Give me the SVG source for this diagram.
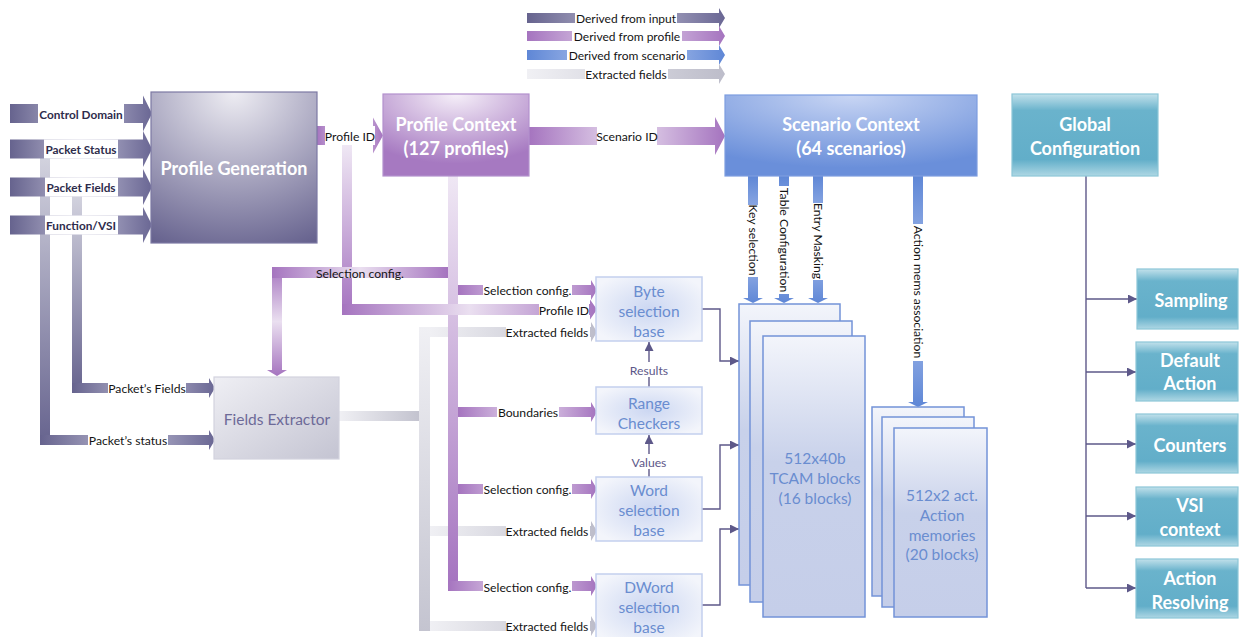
<svg xmlns="http://www.w3.org/2000/svg" width="1239" height="637" viewBox="0 0 1239 637">
<style>
text{font-family:Lato,"Liberation Sans",sans-serif;dominant-baseline:central;text-anchor:middle}
.lbl{font-size:12.2px;fill:#141414}
.lg{font-size:12px;fill:#141414}
.inl{font-size:11.8px;font-weight:bold;fill:#2e2c4c}
.big{font-size:18px;font-weight:bold;fill:#ffffff}
.blue{font-size:15.5px;fill:#6a8dd0}
.fx{font-size:15.5px;fill:#6d6a98}
.mem{font-size:15.5px;fill:#6a8dd0}
.wbg{fill:#ffffff}
.thin{fill:none;stroke:#5d5889;stroke-width:1.4}
.arr{marker-end:url(#ah)}
.sel{fill:url(#fSel);stroke:#c3cfee;stroke-width:1.5}
.memr{fill:url(#fMem);stroke:#7393d8;stroke-width:1.5}
.teal{fill:url(#fTeal);stroke:#8cc6d8;stroke-width:1.2}
</style>
<defs>
<marker id="ah" viewBox="0 0 10 10" refX="10" refY="5" markerWidth="10" markerHeight="9" markerUnits="userSpaceOnUse" orient="auto"><path d="M0,0 L10,5 L0,10 z" fill="#5d5889"/></marker>
<linearGradient id="gIn" x1="0" y1="0" x2="1" y2="0"><stop offset="0" stop-color="#66638e"/><stop offset="0.5" stop-color="#bdbbd2"/><stop offset="1" stop-color="#6a6794"/></linearGradient>
<linearGradient id="gInV" x1="0" y1="0" x2="0" y2="1"><stop offset="0" stop-color="#d2d2de"/><stop offset="1" stop-color="#66638e"/></linearGradient>
<linearGradient id="gPro" x1="0" y1="0" x2="1" y2="0"><stop offset="0" stop-color="#a574bf"/><stop offset="0.5" stop-color="#eadff0"/><stop offset="1" stop-color="#a574bf"/></linearGradient>
<linearGradient id="gProV" x1="0" y1="0" x2="0" y2="1"><stop offset="0" stop-color="#a574bf"/><stop offset="0.5" stop-color="#eadff0"/><stop offset="1" stop-color="#a574bf"/></linearGradient>
<linearGradient id="gProV2" x1="0" y1="0" x2="0" y2="1"><stop offset="0" stop-color="#efe7f4"/><stop offset="1" stop-color="#a472bf"/></linearGradient>
<linearGradient id="gSc" x1="0" y1="0" x2="1" y2="0"><stop offset="0" stop-color="#5f87d6"/><stop offset="0.5" stop-color="#c5d3f2"/><stop offset="1" stop-color="#5f87d6"/></linearGradient>
<linearGradient id="gScV" x1="0" y1="0" x2="0" y2="1"><stop offset="0" stop-color="#5f87d6"/><stop offset="0.5" stop-color="#b7c8ef"/><stop offset="1" stop-color="#5f87d6"/></linearGradient>
<linearGradient id="gEx" x1="0" y1="0" x2="1" y2="0"><stop offset="0" stop-color="#f0f0f4"/><stop offset="1" stop-color="#bdbdca"/></linearGradient>
<linearGradient id="gExV" x1="0" y1="0" x2="0" y2="1"><stop offset="0" stop-color="#f0f0f4"/><stop offset="1" stop-color="#c4c4d0"/></linearGradient>
<radialGradient id="fGen" cx="0.5" cy="0" r="1.1"><stop offset="0" stop-color="#eeedf3"/><stop offset="1" stop-color="#66628e"/></radialGradient>
<radialGradient id="fCtx" cx="0.5" cy="0" r="1"><stop offset="0" stop-color="#f6f0f9"/><stop offset="0.85" stop-color="#a679c1"/></radialGradient>
<radialGradient id="fScn" cx="0.5" cy="0" r="1"><stop offset="0" stop-color="#c9d6f4"/><stop offset="0.9" stop-color="#6a8fda"/></radialGradient>
<linearGradient id="fTeal" x1="0" y1="0" x2="0" y2="1"><stop offset="0" stop-color="#c2e1eb"/><stop offset="0.2" stop-color="#6ab3cc"/><stop offset="0.8" stop-color="#62aec9"/><stop offset="1" stop-color="#aed7e4"/></linearGradient>
<radialGradient id="fSel" cx="0.5" cy="0.5" r="0.6"><stop offset="0" stop-color="#ccd7f2"/><stop offset="1" stop-color="#f3f5fb"/></radialGradient>
<linearGradient id="fFx" x1="0" y1="0" x2="1" y2="1"><stop offset="0" stop-color="#efeff4"/><stop offset="1" stop-color="#c4c4d2"/></linearGradient>
<linearGradient id="fMem" x1="0" y1="0" x2="0" y2="1"><stop offset="0" stop-color="#f3f5fb"/><stop offset="0.45" stop-color="#c8d1ea"/><stop offset="1" stop-color="#c5cee9"/></linearGradient>
</defs>

<g id="legend">
<polygon points="527,13 719,13 719,8 725,18 719,28 719,23 527,23" fill="url(#gIn)"/>
<rect class="wbg" x="575" y="12" width="102" height="12"/>
<text class="lg" x="626" y="18">Derived from input</text>
<polygon points="527,31 719,31 719,26 725,36 719,46 719,41 527,41" fill="url(#gPro)"/>
<rect class="wbg" x="572" y="30" width="110" height="12"/>
<text class="lg" x="627" y="36">Derived from profile</text>
<polygon points="527,50 719,50 719,45 725,55 719,65 719,60 527,60" fill="url(#gSc)"/>
<rect class="wbg" x="567" y="49" width="120" height="12"/>
<text class="lg" x="627" y="55">Derived from scenario</text>
<polygon points="527,69 719,69 719,64 725,74 719,84 719,79 527,79" fill="url(#gEx)"/>
<rect class="wbg" x="585" y="68" width="83" height="12"/>
<text class="lg" x="626" y="74">Extracted fields</text>
</g>

<g id="connectors">
<rect x="40" y="158" width="10" height="287" fill="url(#gInV)"/>
<rect x="72" y="196" width="10" height="197" fill="url(#gInV)"/>
<polygon points="10,104 143,104 143,95.5 152,113.5 143,131.5 143,123 10,123" fill="url(#gIn)"/>
<rect class="wbg" x="38" y="104" width="86" height="19"/>
<text class="inl" x="81" y="114">Control Domain</text>
<polygon points="10,139.5 143,139.5 143,131 152,149 143,167 143,158.5 10,158.5" fill="url(#gIn)"/>
<rect class="wbg" x="44" y="139.5" width="74" height="19"/>
<text class="inl" x="81" y="149">Packet Status</text>
<polygon points="10,177.5 143,177.5 143,169 152,187 143,205 143,196.5 10,196.5" fill="url(#gIn)"/>
<rect class="wbg" x="45" y="177.5" width="73" height="19"/>
<text class="inl" x="81" y="187">Packet Fields</text>
<polygon points="10,215.5 143,215.5 143,207 152,225 143,243 143,234.5 10,234.5" fill="url(#gIn)"/>
<rect class="wbg" x="45" y="215.5" width="73" height="19"/>
<text class="inl" x="81" y="225">Function/VSI</text>
<polygon points="72,383 209,383 209,378 215,388 209,398 209,393 72,393" fill="url(#gIn)"/>
<rect class="wbg" x="108" y="382" width="78" height="12"/>
<text class="lbl" x="147" y="388">Packet’s Fields</text>
<polygon points="40,435 209,435 209,430 215,440 209,450 209,445 40,445" fill="url(#gIn)"/>
<rect class="wbg" x="88" y="434" width="80" height="12"/>
<text class="lbl" x="128" y="440">Packet’s status</text>

<rect x="339" y="411" width="91" height="10" fill="url(#gEx)"/>
<rect x="419" y="327" width="11" height="304" fill="url(#gExV)"/>
<polygon points="430,327 591,327 591,322 597,332 591,342 591,337 430,337" fill="url(#gEx)"/>
<polygon points="430,526 591,526 591,521 597,531 591,541 591,536 430,536" fill="url(#gEx)"/>
<polygon points="430,621 591,621 591,616 597,626 591,636 591,631 430,631" fill="url(#gEx)"/>

<rect x="448" y="176" width="10" height="415" fill="url(#gProV2)"/>
<rect x="342" y="145" width="10" height="170" fill="url(#gProV2)"/>
<polygon points="272,267 282,267 282,370 287,370 277,376 267,370 272,370" fill="url(#gProV)"/>
<rect x="272" y="267" width="176" height="11" fill="url(#gPro)"/>
<text class="lbl" x="360" y="273">Selection config.</text>
<polygon points="317,126 373,126 373,117.5 383,135.5 373,153.5 373,145 317,145" fill="url(#gPro)"/>
<rect class="wbg" x="325" y="126" width="50" height="19"/>
<text class="lbl" x="350" y="136">Profile ID</text>
<polygon points="529,127 715,127 715,117 725,136 715,155 715,145 529,145" fill="url(#gPro)"/>
<rect class="wbg" x="597" y="127" width="60" height="18"/>
<text class="lbl" x="627" y="136">Scenario ID</text>
<polygon points="342,304 590,304 590,299.5 597,309.5 590,319.5 590,315 342,315" fill="url(#gPro)"/>
<rect class="wbg" x="539" y="303" width="50" height="13"/>
<text class="lbl" x="564" y="310">Profile ID</text>
<polygon points="458,285 591,285 591,280 597,290 591,300 591,295 458,295" fill="url(#gPro)"/>
<rect class="wbg" x="483" y="284" width="89" height="12"/>
<text class="lbl" x="527.5" y="290">Selection config.</text>
<polygon points="458,407 591,407 591,402 597,412 591,422 591,417 458,417" fill="url(#gPro)"/>
<rect class="wbg" x="497" y="406" width="62" height="12"/>
<text class="lbl" x="528" y="412">Boundaries</text>
<polygon points="458,484 591,484 591,479 597,489 591,499 591,494 458,494" fill="url(#gPro)"/>
<rect class="wbg" x="483" y="483" width="89" height="12"/>
<text class="lbl" x="527.5" y="489">Selection config.</text>
<polygon points="448,581 591,581 591,576 597,586 591,596 591,591 448,591" fill="url(#gPro)"/>
<rect class="wbg" x="483" y="580" width="89" height="12"/>
<text class="lbl" x="527.5" y="587">Selection config.</text>
<rect class="wbg" x="506" y="326" width="84" height="12"/>
<text class="lbl" x="547" y="332">Extracted fields</text>
<rect class="wbg" x="506" y="525" width="84" height="12"/>
<text class="lbl" x="547" y="531">Extracted fields</text>
<rect class="wbg" x="506" y="620" width="84" height="12"/>
<text class="lbl" x="547" y="626">Extracted fields</text>

<polygon points="748,176 758,176 758,298 763,298 753,303 743,298 748,298" fill="url(#gScV)"/>
<rect class="wbg" x="746" y="205" width="14" height="72"/>
<text class="lbl" transform="translate(753,240) rotate(90)">Key selection</text>
<polygon points="779,176 789,176 789,298 794,298 784,303 774,298 779,298" fill="url(#gScV)"/>
<rect class="wbg" x="777" y="186" width="14" height="108"/>
<text class="lbl" transform="translate(784,240) rotate(90)">Table Configuration</text>
<polygon points="813,176 823,176 823,298 828,298 818,303 808,298 813,298" fill="url(#gScV)"/>
<rect class="wbg" x="811" y="203" width="14" height="77"/>
<text class="lbl" transform="translate(818,241) rotate(90)">Entry Masking</text>
<polygon points="913,176 923,176 923,402 928,402 918,407 908,402 913,402" fill="url(#gScV)"/>
<rect class="wbg" x="911" y="224" width="14" height="137"/>
<text class="lbl" transform="translate(918,292) rotate(90)">Action mems association</text>

<path class="thin arr" d="M702,309 H720 V361 H739"/>
<path class="thin arr" d="M702,509 H720 V445 H739"/>
<path class="thin arr" d="M702,605 H720 V529 H739"/>
<path class="thin arr" d="M649,387 V342"/>
<rect class="wbg" x="627" y="362" width="44" height="15"/>
<text class="lbl" x="649" y="370" style="fill:#5d5889">Results</text>
<path class="thin arr" d="M649,477 V435"/>
<rect class="wbg" x="629" y="454" width="40" height="15"/>
<text class="lbl" x="649" y="462" style="fill:#5d5889">Values</text>
<path class="thin" d="M1086,176 V588"/>
<path class="thin arr" d="M1086,299 H1137"/>
<path class="thin arr" d="M1086,372 H1136"/>
<path class="thin arr" d="M1086,444 H1136"/>
<path class="thin arr" d="M1086,516 H1136"/>
<path class="thin arr" d="M1086,588 H1136"/>
</g>

<g id="profile-generation">
<rect x="151" y="92" width="166" height="151" fill="url(#fGen)" stroke="#7c79a3" stroke-width="1.2"/>
<text class="big" x="234" y="168">Profile Generation</text>
</g>
<g id="profile-context">
<rect x="383" y="94" width="146" height="82" fill="url(#fCtx)" stroke="#b391cd" stroke-width="1.2"/>
<text class="big" x="456" y="124">Profile Context</text>
<text class="big" x="456" y="148">(127 profiles)</text>
</g>
<g id="scenario-context">
<rect x="725" y="95" width="252" height="81" fill="url(#fScn)" stroke="#7d9de0" stroke-width="1.2"/>
<text class="big" x="851" y="124">Scenario Context</text>
<text class="big" x="851" y="148">(64 scenarios)</text>
</g>
<g id="global-configuration">
<rect class="teal" x="1012" y="94" width="146" height="82"/>
<text class="big" x="1085" y="124">Global</text>
<text class="big" x="1085" y="148">Configuration</text>
</g>
<g id="fields-extractor">
<rect x="214" y="377" width="125" height="82" fill="url(#fFx)" stroke="#d2d2de" stroke-width="1.2"/>
<text class="fx" x="277" y="419">Fields Extractor</text>
</g>
<g id="byte-selection">
<rect class="sel" x="596" y="277" width="106" height="64"/>
<text class="blue" x="649" y="291">Byte</text>
<text class="blue" x="649" y="311">selection</text>
<text class="blue" x="649" y="331">base</text>
</g>
<g id="range-checkers">
<rect class="sel" x="596" y="387" width="106" height="47"/>
<text class="blue" x="649" y="403">Range</text>
<text class="blue" x="649" y="423">Checkers</text>
</g>
<g id="word-selection">
<rect class="sel" x="596" y="477" width="106" height="64"/>
<text class="blue" x="649" y="490">Word</text>
<text class="blue" x="649" y="510">selection</text>
<text class="blue" x="649" y="530">base</text>
</g>
<g id="dword-selection">
<rect class="sel" x="596" y="574" width="106" height="68"/>
<text class="blue" x="649" y="587">DWord</text>
<text class="blue" x="649" y="607">selection</text>
<text class="blue" x="649" y="627">base</text>
</g>
<g id="tcam-blocks">
<rect class="memr" x="739" y="304" width="101" height="281"/>
<rect class="memr" x="750" y="321" width="102" height="281"/>
<rect class="memr" x="763" y="336" width="102" height="281"/>
<text class="mem" x="815" y="458">512x40b</text>
<text class="mem" x="815" y="478">TCAM blocks</text>
<text class="mem" x="815" y="498">(16 blocks)</text>
</g>
<g id="action-memories">
<rect class="memr" x="872" y="407" width="92" height="189"/>
<rect class="memr" x="882" y="417" width="92" height="190"/>
<rect class="memr" x="894" y="428" width="93" height="189"/>
<text class="mem" x="942" y="495">512x2 act.</text>
<text class="mem" x="942" y="515">Action</text>
<text class="mem" x="942" y="535">memories</text>
<text class="mem" x="942" y="554">(20 blocks)</text>
</g>
<g id="sampling">
<rect class="teal" x="1137" y="269" width="101" height="60"/>
<text class="big" x="1191" y="300">Sampling</text>
</g>
<g id="default-action">
<rect class="teal" x="1136" y="342" width="102" height="59"/>
<text class="big" x="1190" y="360">Default</text>
<text class="big" x="1190" y="383">Action</text>
</g>
<g id="counters">
<rect class="teal" x="1136" y="414" width="102" height="59"/>
<text class="big" x="1190" y="445">Counters</text>
</g>
<g id="vsi-context">
<rect class="teal" x="1136" y="487" width="102" height="59"/>
<text class="big" x="1190" y="505">VSI</text>
<text class="big" x="1190" y="529">context</text>
</g>
<g id="action-resolving">
<rect class="teal" x="1136" y="559" width="102" height="59"/>
<text class="big" x="1190" y="578">Action</text>
<text class="big" x="1190" y="602">Resolving</text>
</g>
</svg>
